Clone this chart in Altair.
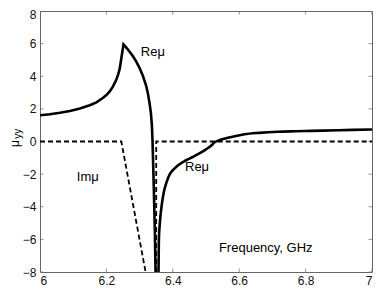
import altair as alt
import pandas as pd

# Re(mu) solid curve, branch left of the pole
re_left_f = [6.00, 6.03, 6.06, 6.09, 6.12, 6.15, 6.17, 6.19, 6.20, 6.21, 6.22, 6.23, 6.235,
             6.24, 6.245, 6.2515, 6.26, 6.27, 6.28, 6.29, 6.30, 6.31, 6.32, 6.325, 6.33,
             6.334, 6.337, 6.339, 6.343, 6.346, 6.348]
re_left_v = [1.61, 1.67, 1.76, 1.87, 2.02, 2.22, 2.40, 2.68, 2.85, 3.07, 3.38, 3.80, 4.08,
             4.45, 5.10, 5.95, 5.75, 5.50, 5.22, 4.90, 4.50, 4.02, 3.40, 2.95, 2.35,
             1.75, 1.00, 0.00, -3.0, -5.5, -8.0]
# Re(mu) solid curve, branch right of the pole
re_right_f = [6.357, 6.358, 6.361, 6.366, 6.373, 6.381, 6.391, 6.403, 6.416, 6.44, 6.46,
              6.476, 6.50, 6.516, 6.526, 6.54, 6.566, 6.59, 6.616, 6.66, 6.716, 6.77,
              6.815, 6.90, 7.00]
re_right_v = [-8.0, -6.05, -5.0, -4.0, -3.1, -2.5, -2.0, -1.7, -1.45, -1.15, -0.95,
              -0.78, -0.48, -0.25, -0.05, 0.08, 0.23, 0.34, 0.44, 0.53, 0.60, 0.63,
              0.65, 0.69, 0.74]
# Im(mu) dashed curve
im_a_f = [6.00, 6.245, 6.318]
im_a_v = [0.0, 0.0, -8.0]
im_b_f = [6.350, 6.350, 7.00]
im_b_v = [-8.0, 0.0, 0.0]

# labels
lab_text = ["Reμ", "Imμ", "Reμ", "Frequency, GHz"]
lab_f = [6.340, 6.144, 6.473, 6.680]
lab_v = [5.51, -2.2, -1.59, -6.54]

x_ticks = [6.0, 6.2, 6.4, 6.6, 6.8, 7.0]
y_ticks = [-8, -6, -4, -2, 0, 2, 4, 6, 8]

def seg_df(fs, vs, seg):
    return pd.DataFrame({"f": fs, "v": vs, "seg": seg, "o": list(range(len(fs)))})

df_re1 = seg_df(re_left_f, re_left_v, "re1")
df_re2 = seg_df(re_right_f, re_right_v, "re2")
df_im = pd.concat([seg_df(im_a_f, im_a_v, "im1"), seg_df(im_b_f, im_b_v, "im2")])

xs = alt.Scale(domain=[6, 7], nice=False)
ys = alt.Scale(domain=[-8, 8], nice=False)
X = alt.X("f:Q", scale=xs, axis=alt.Axis(values=x_ticks, format="~g", title=None,
                                         ticks=False, domain=False, grid=False,
                                         labelPadding=3, labelOverlap=False))
Y = alt.Y("v:Q", scale=ys, axis=alt.Axis(
    values=y_ticks, title=None, ticks=False, domain=False, grid=False, labelPadding=4,
    labelOverlap=False,
    labelOffset={"condition": {"test": "datum.value == 8", "value": 3}, "value": 0}))

solid1 = alt.Chart(df_re1).mark_line(
    color="black", strokeWidth=2.6, clip=True, interpolate="linear"
).encode(x=X, y=Y, order="o:Q")
solid2 = alt.Chart(df_re2).mark_line(
    color="black", strokeWidth=2.6, clip=True, interpolate="monotone"
).encode(x=X, y=Y, order="o:Q")
dashed = alt.Chart(df_im).mark_line(
    color="black", strokeWidth=1.8, strokeDash=[5, 3], clip=True
).encode(x=X, y=Y, detail="seg:N", order="o:Q")

labels = alt.Chart(pd.DataFrame({"t": lab_text, "f": lab_f, "v": lab_v})).mark_text(
    font="Liberation Sans", fontSize=13, color="black", align="center", baseline="middle"
).encode(x=X, y=Y, text="t:N")

# y axis title "mu_yy" drawn rotated
ytitle = alt.Chart(pd.DataFrame({"t": ["μ"], "f": [5.9247], "v": [-0.12]})).mark_text(
    font="Liberation Sans", fontSize=12, color="black", angle=270, align="center", baseline="middle"
).encode(x=X, y=Y, text="t:N")
ysub = alt.Chart(pd.DataFrame({"t": ["yy"], "f": [5.9337], "v": [0.48]})).mark_text(
    font="Liberation Sans", fontSize=10, color="black", angle=270, align="center", baseline="middle"
).encode(x=X, y=Y, text="t:N")

# inward ticks on all four sides
tx = pd.DataFrame({"f": x_ticks * 2, "v": [-8] * len(x_ticks) + [8] * len(x_ticks)})
ty = pd.DataFrame({"f": [6] * len(y_ticks) + [7] * len(y_ticks), "v": y_ticks * 2})
xtick = alt.Chart(tx).mark_tick(orient="vertical", size=7, thickness=1, color="#666", clip=True).encode(
    x=X, y=Y)
ytick = alt.Chart(ty).mark_tick(orient="horizontal", size=7, thickness=1, color="#666", clip=True).encode(
    x=X, y=Y)

chart = alt.layer(xtick, ytick, dashed, solid1, solid2, labels, ytitle, ysub).properties(
    width=332, height=261,
    autosize=alt.AutoSizeParams(type="none"),
    padding={"left": 32, "top": 3, "right": 2, "bottom": 14},
).configure_view(stroke="#666", strokeWidth=1).configure_axis(
    labelFont="Liberation Sans", labelFontSize=12, labelColor="#111", labelOverlap=False
)

chart.save("out.html", embed_options={"renderer": "svg", "actions": False})
